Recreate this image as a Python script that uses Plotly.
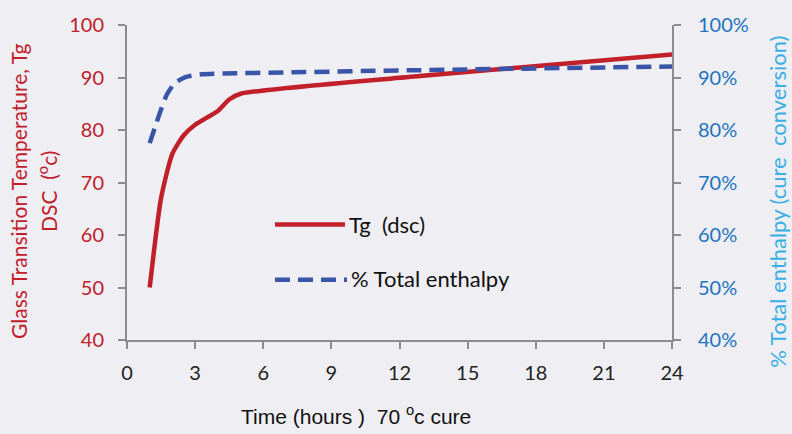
import plotly.graph_objects as go

# ---- data ----
tg_hours = [1.0, 1.5, 2.0, 2.5, 3.0, 3.5, 4.0, 4.5, 5.0, 12.9, 24.0]
tg_values = [50.0, 67.0, 75.5, 79.0, 81.0, 82.3, 83.6, 85.8, 86.9, 90.3, 94.4]

enth_hours = [1.0, 1.3, 1.5, 1.75, 2.1, 2.6, 3.3, 4.8, 12.9, 24.0]
enth_values = [0.775, 0.814, 0.839, 0.867, 0.889, 0.901, 0.906, 0.908, 0.914, 0.921]

x_ticks = [0, 3, 6, 9, 12, 15, 18, 21, 24]
left_ticks = [40, 50, 60, 70, 80, 90, 100]
right_ticks = [0.4, 0.5, 0.6, 0.7, 0.8, 0.9, 1.0]
right_tick_labels = ["40%", "50%", "60%", "70%", "80%", "90%", "100%"]

series_names = ["Tg  (dsc)", "% Total enthalpy"]

RED = "#c1202b"
BLUE = "#3a55a8"
AXIS = "#8c8c8c"
BG = "#eeeef3"
TICKFONT = "Lato"

fig = go.Figure()
fig.add_trace(go.Scatter(
    x=tg_hours, y=tg_values, mode="lines", name=series_names[0],
    line=dict(color=RED, width=4.5, shape="spline", smoothing=0.6),
    showlegend=False, yaxis="y"))
fig.add_trace(go.Scatter(
    x=enth_hours, y=enth_values, mode="lines", name=series_names[1],
    line=dict(color=BLUE, width=4.5, dash="15px,8px", shape="spline", smoothing=0.6),
    showlegend=False, yaxis="y2"))

fig.update_layout(
    width=792, height=434,
    margin=dict(l=127, r=120, t=21, b=94),
    paper_bgcolor=BG, plot_bgcolor=BG,
    xaxis=dict(range=[0, 24], tickvals=x_ticks, showgrid=False, zeroline=False,
               showline=True, linecolor=AXIS, linewidth=2,
               ticks="outside", ticklen=7, tickcolor=AXIS, tickwidth=2,
               tickfont=dict(family=TICKFONT, size=20, color="#222222"),
               ticklabelstandoff=7),
    yaxis=dict(range=[40, 100], tickvals=left_ticks, showgrid=False, zeroline=False,
               showline=True, linecolor=AXIS, linewidth=2,
               ticks="outside", ticklen=7, tickcolor=AXIS, tickwidth=2,
               tickfont=dict(family=TICKFONT, size=20, color=RED),
               ticklabelstandoff=10),
    yaxis2=dict(range=[0.4, 1.0], tickvals=right_ticks, ticktext=right_tick_labels,
                overlaying="y", side="right", showgrid=False, zeroline=False,
                showline=True, linecolor=AXIS, linewidth=2,
                ticks="outside", ticklen=7, tickcolor=AXIS, tickwidth=2,
                tickfont=dict(family=TICKFONT, size=20, color="#1f74c0"),
                ticklabelstandoff=13),
    showlegend=False,
)

# manual legend (lines drawn in pixel-equivalent paper coords)
def px_x(px):
    return (px - 127) / (672 - 127)

def px_y(py):
    return (340 - py) / (340 - 21)

fig.add_shape(type="line", xref="paper", yref="paper",
              x0=px_x(275), x1=px_x(345), y0=px_y(223), y1=px_y(223),
              line=dict(color=RED, width=4.5))
fig.add_shape(type="line", xref="paper", yref="paper",
              x0=px_x(275), x1=px_x(347), y0=px_y(279), y1=px_y(279),
              line=dict(color=BLUE, width=4.5, dash="15px,8px"))
fig.add_annotation(xref="paper", yref="paper", x=px_x(347), y=px_y(223),
                   text=series_names[0], showarrow=False, xanchor="left", yanchor="middle",
                   font=dict(family=TICKFONT, size=22, color="#111111"))
fig.add_annotation(xref="paper", yref="paper", x=px_x(349), y=px_y(278),
                   text=series_names[1], showarrow=False, xanchor="left", yanchor="middle",
                   font=dict(family=TICKFONT, size=22, color="#111111"))

# axis titles
fig.add_annotation(xref="paper", yref="paper", x=px_x(356), y=px_y(416),
                   text="Time (hours )  70 <sup>o</sup>c cure", showarrow=False,
                   xanchor="center", yanchor="middle",
                   font=dict(family="Liberation Sans", size=21, color="#111111"))
fig.add_annotation(xref="paper", yref="paper", x=px_x(19), y=px_y(190),
                   text="Glass Transition Temperature, Tg", showarrow=False,
                   textangle=-90, xanchor="center", yanchor="middle",
                   font=dict(family=TICKFONT, size=21, color=RED))
fig.add_annotation(xref="paper", yref="paper", x=px_x(47), y=px_y(190),
                   text="DSC  (<sup>o</sup>c)", showarrow=False,
                   textangle=-90, xanchor="center", yanchor="middle",
                   font=dict(family=TICKFONT, size=21, color=RED))
fig.add_annotation(xref="paper", yref="paper", x=px_x(778), y=px_y(200),
                   text="% Total enthalpy (cure  conversion)", showarrow=False,
                   textangle=-90, xanchor="center", yanchor="middle",
                   font=dict(family=TICKFONT, size=22, color="#3aafe3"))

fig.write_html("out.html", config={"displayModeBar": False},
               post_script="document.body.style.margin='0';")
